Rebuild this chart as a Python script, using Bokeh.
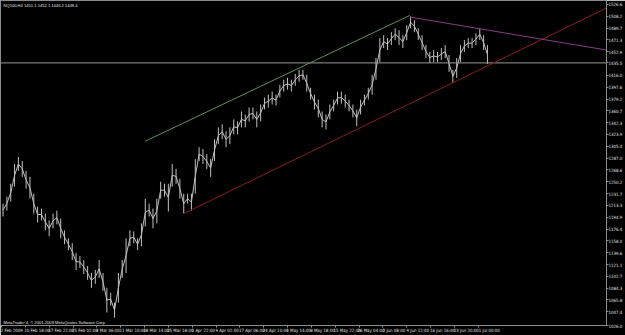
import numpy as np
from bokeh.plotting import figure
from bokeh.models import Range1d, LinearAxis, FixedTicker, Label, ColumnDataSource
from bokeh.embed import file_html
from bokeh.resources import INLINE

# ---------------- data ----------------
chart_title = "NQ100,H4  1451.1 1452.1 1446.2 1448.4"
copyright_text = "MetaTrader 4, \u00a9 2001-2009 MetaQuotes Software Corp."
current_price = 1435.5

bars_per_group = 5  # each drawn column groups 5 H4 bars
group_high = [1216.1, 1226.9, 1247.0, 1277.9, 1288.7, 1282.5, 1267.1, 1257.8, 1231.5, 1211.4,
              1208.3, 1200.6, 1189.9, 1200.6, 1205.3, 1192.9, 1174.4, 1162.0, 1154.3, 1138.8,
              1134.2, 1128.0, 1118.7, 1107.9, 1112.6, 1128.0, 1107.9, 1084.8, 1077.1, 1061.6,
              1107.9, 1128.0, 1162.0, 1174.4, 1172.8, 1162.0, 1185.2, 1223.8, 1216.1, 1208.3,
              1223.8, 1250.1, 1247.0, 1247.0, 1277.9, 1270.2, 1254.7, 1231.5, 1231.5, 1231.5,
              1285.6, 1304.1, 1301.1, 1293.3, 1285.6, 1316.5, 1335.0, 1339.7, 1328.9, 1335.0,
              1347.4, 1344.3, 1359.8, 1355.1, 1365.9, 1365.9, 1359.8, 1370.6, 1381.4, 1386.0,
              1390.7, 1386.0, 1401.5, 1409.2, 1412.3, 1409.2, 1418.5, 1424.7, 1424.7, 1416.9,
              1396.8, 1386.0, 1378.3, 1359.8, 1355.1, 1370.6, 1378.3, 1390.7, 1390.7, 1386.0,
              1378.3, 1370.6, 1362.9, 1378.3, 1386.0, 1396.8, 1416.9, 1443.2, 1474.1, 1478.7,
              1474.1, 1483.4, 1489.5, 1486.4, 1478.7, 1494.2, 1508.1, 1501.9, 1489.5, 1478.7,
              1463.3, 1452.5, 1455.6, 1452.5, 1458.6, 1463.3, 1447.8, 1424.7, 1443.2, 1463.3,
              1471.0, 1474.1, 1474.1, 1481.8, 1489.5, 1478.7, 1463.3]
group_low = [1196.0, 1205.3, 1219.2, 1242.5, 1267.1, 1257.8, 1239.3, 1223.8, 1200.6, 1186.7,
             1189.9, 1174.4, 1165.1, 1177.5, 1183.6, 1162.0, 1152.7, 1143.5, 1128.0, 1112.6,
             1115.7, 1106.4, 1097.1, 1084.8, 1091.0, 1100.2, 1080.1, 1046.2, 1057.0, 1038.4,
             1061.6, 1100.2, 1107.9, 1149.7, 1154.3, 1143.5, 1149.7, 1180.5, 1196.0, 1177.5,
             1185.2, 1223.8, 1226.9, 1203.7, 1242.5, 1247.0, 1223.8, 1200.6, 1216.1, 1205.3,
             1231.5, 1282.5, 1277.9, 1270.2, 1257.8, 1282.5, 1308.8, 1316.5, 1304.1, 1308.8,
             1324.2, 1324.2, 1335.0, 1335.0, 1344.3, 1347.4, 1335.0, 1344.3, 1362.9, 1365.9,
             1370.6, 1369.0, 1381.4, 1390.7, 1393.8, 1390.7, 1399.9, 1406.1, 1409.2, 1390.7,
             1378.3, 1362.9, 1350.5, 1335.0, 1331.9, 1347.4, 1359.8, 1370.6, 1372.1, 1365.9,
             1359.8, 1350.5, 1336.6, 1355.1, 1369.0, 1378.3, 1386.0, 1409.2, 1437.0, 1458.6,
             1455.6, 1463.3, 1471.0, 1463.3, 1458.6, 1471.0, 1489.5, 1483.4, 1471.0, 1455.6,
             1443.2, 1435.5, 1437.0, 1437.0, 1440.1, 1443.2, 1421.6, 1404.6, 1412.3, 1437.0,
             1452.5, 1458.6, 1458.6, 1463.3, 1471.0, 1455.6, 1433.9]

# trend lines: (bar index, price) anchor pairs
green_line_bars = [187, 531]
green_line_prices = [1313.4, 1509.6]
red_ray_bars = [237, 587]
red_ray_prices = [1200.6, 1404.6]
purple_ray_bars = [531, 623]
purple_ray_prices = [1507.0, 1488.5]

# time axis (bar index of each label)
date_label_bars = [0, 31, 62, 93, 124, 155, 186, 217, 248, 279, 310, 341, 372, 403,
                   434, 465, 496, 527, 558, 589, 620]
date_labels = ["2 Feb 2009", "10 Feb 18:00", "17 Feb 22:00", "25 Feb 02:00", "4 Mar 06:00",
               "11 Mar 10:00", "18 Mar 14:00", "25 Mar 18:00", "1 Apr 22:00", "9 Apr 02:00",
               "17 Apr 06:00", "24 Apr 10:00", "1 May 14:00", "8 May 18:00", "15 May 22:00",
               "26 May 04:00", "2 Jun 08:00", "9 Jun 12:00", "16 Jun 16:00", "23 Jun 20:00",
               "1 Jul 00:00"]

price_ticks = [1526.6, 1508.2, 1489.7, 1471.3, 1452.9, 1416.0, 1397.6, 1379.2, 1360.7,
               1342.3, 1323.9, 1305.4, 1287.0, 1268.6, 1250.2, 1231.7, 1213.3, 1194.9,
               1176.4, 1158.0, 1139.6, 1121.1, 1102.7, 1084.3, 1065.8, 1047.4, 1026.0]

# ---------------- figure ----------------
X0, X1 = -1.3, 786.8
Y0, Y1 = 1026.0, 1532.8
FONT = "Liberation Sans"
AXFONT = "Liberation Sans Narrow, DejaVu Sans Condensed, Liberation Sans"
FS = "4.1px"
AXFS = "4.4px"
TXT = "#e0e0e0"
AXC = "#8c8c8c"

p = figure(width=625, height=335, output_backend="svg", toolbar_location=None,
           x_range=Range1d(X0, X1), y_range=Range1d(Y0, Y1),
           x_axis_location=None, y_axis_location=None,
           min_border_left=0, min_border_top=0, min_border_right=13, min_border_bottom=6)
p.background_fill_color = "black"
p.border_fill_color = "black"
p.outline_line_color = AXC
p.grid.visible = False

# price bars (grouped): high-low stroke plus a line through the group mid-points
n = len(group_high)
xs = np.arange(n) * bars_per_group + (bars_per_group - 1) / 2.0
mid = (np.array(group_high) + np.array(group_low)) / 2.0
src = ColumnDataSource(dict(x=xs, top=group_high, bottom=group_low, mid=mid))
p.segment(x0="x", y0="bottom", x1="x", y1="top", source=src, line_color="#c0c0c0",
          line_width=1.0)
p.line(x="x", y="mid", source=src, line_color="#c0c0c0", line_width=1.0)

# current price line
p.line([X0, X1], [current_price, current_price], line_color="#9a9a9a", line_width=1)

# trend lines
p.line(green_line_bars, green_line_prices, line_color="#5f8f5f", line_width=1)

def ray(bars, prices):
    slope = (prices[1] - prices[0]) / (bars[1] - bars[0])
    return [bars[0], X1], [prices[0], prices[0] + slope * (X1 - bars[0])]

rx, ry = ray(red_ray_bars, red_ray_prices)
p.line(rx, ry, line_color="#8b1c1c", line_width=1)
px_, py_ = ray(purple_ray_bars, purple_ray_prices)
p.line(px_, py_, line_color="#8a3a8a", line_width=1)

# time axis: MT4 labels are left-aligned after the tick, so the (hidden) major ticks
# that carry the labels are shifted by half a label width; minor ticks mark the bars.
px_per_bar = 610.0 / (X1 - X0)
shifted = [b + (len(t) * 1.75 / 2 + 1.5) / px_per_bar for b, t in zip(date_label_bars, date_labels)]
xa = LinearAxis(ticker=FixedTicker(ticks=shifted, minor_ticks=date_label_bars),
                major_label_overrides={s: t for s, t in zip(shifted, date_labels)})
xa.major_tick_line_color = None
xa.minor_tick_line_color = AXC
xa.minor_tick_in = 0
xa.minor_tick_out = 2
xa.major_tick_out = 2
xa.major_tick_in = 0

all_price_ticks = sorted(price_ticks + [current_price])
ya = LinearAxis(ticker=FixedTicker(ticks=all_price_ticks),
                major_label_overrides={t: f"{t:.1f}" for t in all_price_ticks})
ya.major_tick_line_color = AXC
ya.minor_tick_line_color = None
ya.major_tick_in = 0
ya.major_tick_out = 2
for ax in (xa, ya):
    ax.axis_line_color = AXC
    ax.major_label_standoff = 0
    ax.major_label_text_color = TXT
    ax.major_label_text_font = AXFONT
    ax.major_label_text_font_size = AXFS
p.add_layout(xa, "below")
p.add_layout(ya, "right")

# texts
p.add_layout(Label(x=X0, y=Y1, x_offset=3, y_offset=-2, text=chart_title,
                   text_color=TXT, text_font=FONT, text_font_size=FS,
                   text_baseline="top"))
p.add_layout(Label(x=X0, y=Y0, x_offset=3, y_offset=1, text=copyright_text,
                   text_color=TXT, text_font=FONT, text_font_size=FS,
                   text_baseline="bottom"))

open("out.html", "w").write(file_html(p, INLINE))
